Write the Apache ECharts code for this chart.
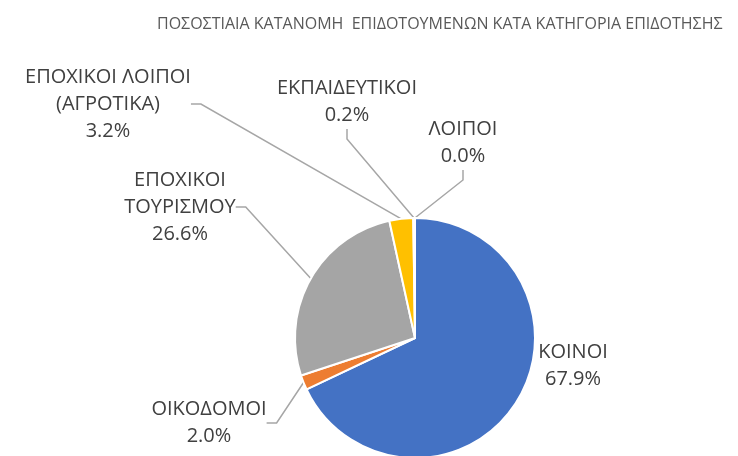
<!DOCTYPE html>
<html>
<head>
<meta charset="utf-8">
<script src="https://cdn.jsdelivr.net/npm/echarts@6/dist/echarts.min.js"></script>
<style>
  html, body { margin: 0; padding: 0; background: #fff; }
  #main { width: 738px; height: 456px; }
</style>
</head>
<body>
<div id="main"></div>
<script>
  // categories, clockwise from 12 o'clock
  var categories = ['ΚΟΙΝΟΙ', 'ΟΙΚΟΔΟΜΟΙ', 'ΕΠΟΧΙΚΟΙ\nΤΟΥΡΙΣΜΟΥ', 'ΕΠΟΧΙΚΟΙ ΛΟΙΠΟΙ\n(ΑΓΡΟΤΙΚΑ)', 'ΕΚΠΑΙΔΕΥΤΙΚΟΙ', 'ΛΟΙΠΟΙ'];
  var shares = [67.9, 2.0, 26.6, 3.2, 0.2, 0.03];
  var colors = ['#4472C4', '#ED7D31', '#A5A5A5', '#FFC000', '#5B9BD5', '#70AD47'];

  // where Excel put each data label (centre of the text block)
  var labelSpots = [[573, 366], [209, 423], [180, 207], [108, 104], [347, 102], [463, 143]];

  var chart = echarts.init(document.getElementById('main'));

  chart.setOption({
    animation: false,
    title: {
      text: 'ΠΟΣΟΣΤΙΑΙΑ ΚΑΤΑΝΟΜΗ  ΕΠΙΔΟΤΟΥΜΕΝΩΝ ΚΑΤΑ ΚΑΤΗΓΟΡΙΑ ΕΠΙΔΟΤΗΣΗΣ',
      left: 152,
      top: 11,
      textStyle: {
        color: '#595959',
        fontFamily: 'Open Sans',
        fontSize: 16,
        fontWeight: 'normal'
      }
    },
    series: [
      {
        type: 'pie',
        center: [415, 338],
        radius: [0, 120],
        startAngle: 90,
        clockwise: true,
        avoidLabelOverlap: false,
        itemStyle: { borderColor: '#fff', borderWidth: 2 },
        label: {
          show: true,
          color: '#404040',
          fontFamily: 'Open Sans',
          fontSize: 20,
          lineHeight: 27,
          align: 'center',
          formatter: function (p) {
            return p.name + '\n' + p.value.toFixed(1) + '%';
          }
        },
        labelLine: {
          show: true,
          length: 10,
          length2: 10,
          lineStyle: { color: '#A6A6A6', width: 1.5 }
        },
        labelLayout: function (p) {
          var s = labelSpots[p.dataIndex];
          return {
            x: s[0],
            y: s[1],
            align: 'center',
            verticalAlign: 'middle'
          };
        },
        data: categories.map(function (c, i) {
          var item = { name: c, value: shares[i], itemStyle: { color: colors[i] } };
          if (i === 0) item.labelLine = { show: false };
          return item;
        })
      }
    ]
  });
</script>
</body>
</html>
